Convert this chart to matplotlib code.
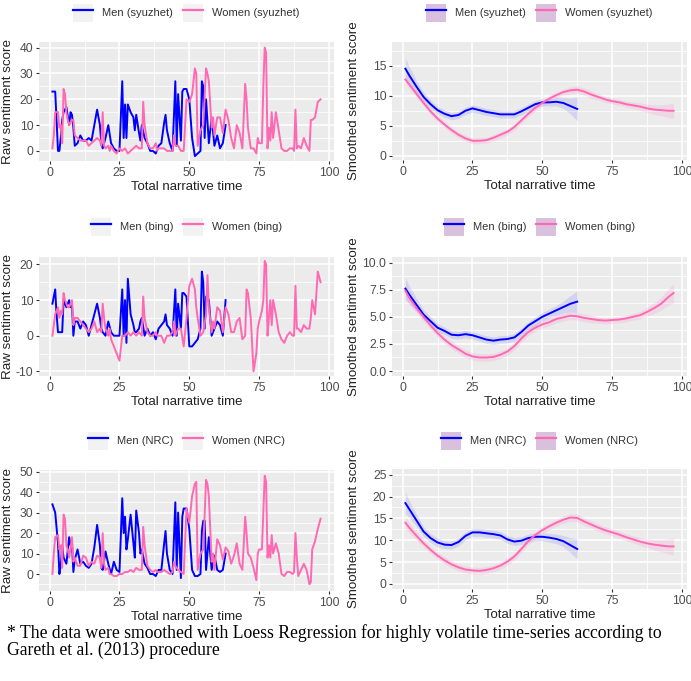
import matplotlib
matplotlib.use("Agg")
import matplotlib.pyplot as plt
from matplotlib.patches import Rectangle
from matplotlib.lines import Line2D
from matplotlib.ticker import MultipleLocator

# raw sentiment, men (time points shared by the three lexicons)
men_t = [1, 2, 2.4, 3, 3.5, 4, 4.5, 5, 6, 7, 7.5, 8, 8.5, 9, 10, 11, 12, 13, 14, 15,
         16, 17, 18, 18.5, 19, 20, 21, 22, 23, 24, 25, 26, 26.5, 27, 27.5, 28, 29, 30, 30.5, 31,
         32, 32.5, 33, 34, 35, 36, 37, 38, 39, 40, 41, 41.5, 42, 43, 44, 45, 45.5, 46, 47, 47.5,
         48, 49, 50, 51, 52, 53, 54, 54.5, 55, 55.5, 56, 57, 58, 59, 60, 61, 62, 63]
men_syuzhet = [23, 23, 14, 0, 0, 5, 12, 15, 17, 10, 15, 14, 9, 2, 3, 6, 4, 4, 5, 4,
               10, 16, 10, 3, 1, 5, 10, 3, 1, 0, 0, 27, 5, 18, 5, 18, 15, 13, 8, 14,
               7, 4, 10, 5, 3, 0, 0, -1, 2, 3, 11, 14, 8, 3, 0, 27, 2, 22, 4, 23,
               24, 24, 20, 5, -2, -1, 0, 27, 25, 5, 20, 3, 13, 2, 6, 1, 3, 10]
men_bing = [9, 13, 7, 1, 1, 1, 1, 10, 8, 10, 8, 9, 0, 4, 4, 2, 4, 3, 0, 3,
            6, 9, 5, 2, 1, 0, 4, 1, 0, 0, 0, 13, 0, 10, -2, 16, 6, 3, 1, 1,
            2, 4, 5, 0, 2, 0, 1, -1, 2, 3, 4, 6, 3, 2, 0, 13, 0, 9, 2, 12,
            12, 11, -3, -3, -2, -1, 2, 18, 15, 2, 11, 10, 0, 2, 4, 3, 0, 10]
men_nrc = [34, 30, 24, 15, 0, 5, 14, 8, 5, 18, 14, 15, 1, 7, 12, 5, 6, 4, 3, 5,
           13, 24, 14, 3, 2, 11, 5, 0, 6, 2, 1, 37, 20, 28, 12, 17, 29, 15, 8, 31,
           20, 10, 12, 5, 3, 0, 0, -1, 2, 2, 15, 21, 10, 2, 0, 35, 2, 30, -2, 28,
           32, 32, 22, 2, -1, -1, 0, 21, 26, 26, 2, 18, 2, 9, 2, 1, 2, 10]

# raw sentiment, women
women_t = [1, 1.5, 2, 3, 3.5, 4, 4.5, 5, 5.5, 6, 6.5, 7, 8, 8.5, 9, 10, 11, 12, 13, 14,
           15, 16, 17, 18, 18.5, 19, 19.5, 20, 21, 21.5, 22, 23, 24, 25, 26, 27, 28, 29, 30, 31,
           32, 33, 33.5, 34, 35, 36, 37, 38, 38.5, 39, 40, 41, 42, 43, 44, 44.5, 45, 46, 47, 48,
           49, 50, 51, 52, 52.5, 53, 54, 55, 56, 56.5, 57, 58, 58.5, 59, 60, 61, 62, 63, 64, 65,
           66, 67, 68, 69, 70, 70.5, 71, 72, 73, 74, 74.5, 75, 76, 76.5, 77, 77.5, 78, 78.5, 79, 79.5,
           80, 81, 82, 83, 84, 85, 86, 87, 87.5, 88, 88.5, 89, 90, 91, 92, 93, 93.5, 94, 95, 96, 97]
women_syuzhet = [1, 6, 15, 15, 9, 10, 3, 24, 22, 15, 12, 10, 12, 12, 6, 5, 4, 4, 4, 2,
                 3, 4, 5, 4, 2, 15, 2, 1, 2, 0, 2, 0, -1, 1, 0, 1, -1, 0, 1, 2,
                 1, 1, 19, 10, 3, 1, 1, 3, 0, 1, 1, 1, 0, 0, 0, 6, 2, 2, 0, 0,
                 20, 19, 22, 32, 30, 2, 8, 10, 32, 30, 27, 9, 13, 6, 13, 13, 7, 16, 12, 5,
                 1, 10, 7, 1, 26, 20, 9, 1, 1, -1, 5, 3, 3, 25, 40, 38, 1, 9, 4, 15,
                 5, 15, 8, 1, 0, 0, 1, 1, 0, 16, 1, 2, 1, 5, 2, 0, 12, 12, 13, 19, 20]
women_bing = [0, 3, 6, 8, 5, 7, 6, 12, 10, 9, 8, 8, 10, 3, 5, 5, 4, 3, 2, 1,
              2, 4, 1, 2, 1, 9, 5, 2, 0, 2, -1, -3, -5, -7, 0, 0, 1, 0, 1, 0,
              1, 0, 11, 5, 1, 0, 0, 1, 0, 0, 0, -2, 0, 0, 1, 4, 0, 2, 2, -3,
              5, 14, 16, 13, 8, 5, 0, 1, 6, 17, 8, 1, 4, 2, 8, 7, 1, 8, 6, 1,
              1, 4, 5, -1, 0, 13, 12, 5, -10, -5, 2, 4, 7, 10, 21, 20, 0, 5, 10, 3,
              10, 6, 1, -1, -2, 0, 1, 0, 0, 14, 2, 2, 1, 3, 2, 2, 5, 10, 6, 18, 15]
women_nrc = [0, 10, 18, 19, 12, 14, 3, 29, 27, 14, 12, 8, 18, 6, 8, 4, 4, 9, 8, 4,
             6, 5, 9, 8, 3, 20, 5, 2, 3, 0, 0, -1, -1, 0, 0, 1, 1, 2, 1, 3,
             2, 2, 23, 14, 4, 2, 1, 2, 1, 1, 1, 2, 1, 0, 1, 6, 4, 2, 1, 0,
             32, 25, 38, 44, 45, 2, 10, 12, 46, 44, 38, 6, 10, 2, 17, 14, 7, 13, 11, 5,
             9, 15, 5, 2, 28, 20, 10, 8, 3, -3, 10, 12, 12, 30, 48, 45, 8, 14, 8, 19,
             10, 15, 10, 0, -1, 1, 1, 0, 1, 20, 8, -1, 2, 5, 2, -5, -4, 12, 16, 22, 27]

# loess-smoothed values, with half-width of the band
smooth_men_t = [1, 2.5, 5, 7.5, 10, 12.5, 15, 17.5, 20, 22.5, 25, 27.5, 30, 32.5, 35, 37.5,
                40, 42.5, 45, 47.5, 50, 52.5, 55, 57.5, 60, 62.5]
smooth_women_t = [1, 2.5, 5, 7.5, 10, 12.5, 15, 17.5, 20, 22.5, 25, 27.5, 30, 32.5, 35, 37.5,
                  40, 42.5, 45, 47.5, 50, 52.5, 55, 57.5, 60, 62.5, 65, 67.5, 70, 72.5, 75,
                  77.5, 80, 82.5, 85, 87.5, 90, 92.5, 95, 97]

sm_men_syuzhet = [14.5, 13.3, 11.5, 9.8, 8.6, 7.6, 7.0, 6.6, 6.8, 7.5, 7.9, 7.6, 7.3, 7.1, 6.9, 6.9,
                  6.9, 7.4, 8.0, 8.6, 8.9, 8.9, 9.0, 8.8, 8.3, 7.8]
se_men_syuzhet = [1.8, 1.4, 1.0, 0.8, 0.7, 0.6, 0.6, 0.6, 0.6, 0.6, 0.6, 0.6, 0.6, 0.6, 0.6, 0.6,
                  0.6, 0.6, 0.6, 0.6, 0.6, 0.6, 0.7, 0.9, 1.3, 2.0]
sm_women_syuzhet = [12.7, 11.8, 10.3, 8.8, 7.4, 6.2, 5.2, 4.3, 3.5, 2.9, 2.5, 2.5, 2.6, 3.0, 3.5, 4.0,
                    4.8, 5.9, 7.0, 8.0, 8.8, 9.5, 10.1, 10.6, 10.9, 11.0, 10.7, 10.2, 9.8, 9.4, 9.1,
                    8.9, 8.6, 8.4, 8.2, 7.9, 7.7, 7.6, 7.5, 7.5]
se_women_syuzhet = [0.8, 0.7, 0.6, 0.5, 0.5, 0.5, 0.5, 0.5, 0.5, 0.5, 0.5, 0.5, 0.5, 0.5, 0.5, 0.5,
                    0.5, 0.5, 0.5, 0.5, 0.5, 0.5, 0.5, 0.5, 0.6, 0.6, 0.6, 0.6, 0.5, 0.5, 0.5,
                    0.5, 0.5, 0.6, 0.6, 0.7, 0.8, 0.9, 1.1, 1.3]

sm_men_bing = [7.6, 7.0, 6.1, 5.2, 4.6, 4.0, 3.7, 3.35, 3.3, 3.4, 3.3, 3.1, 2.9, 2.8, 2.9, 2.95,
               3.1, 3.6, 4.2, 4.6, 5.0, 5.3, 5.6, 5.9, 6.2, 6.4]
se_men_bing = [1.0, 0.8, 0.6, 0.45, 0.4, 0.4, 0.35, 0.35, 0.35, 0.35, 0.35, 0.35, 0.35, 0.35, 0.35, 0.35,
               0.35, 0.35, 0.35, 0.4, 0.4, 0.4, 0.45, 0.55, 0.75, 1.0]
sm_women_bing = [7.4, 6.7, 5.8, 5.0, 4.2, 3.5, 2.9, 2.4, 2.0, 1.6, 1.35, 1.25, 1.25, 1.3, 1.5, 1.8,
                 2.3, 3.0, 3.6, 4.0, 4.3, 4.5, 4.8, 4.95, 5.1, 5.05, 4.9, 4.8, 4.7, 4.65, 4.7,
                 4.75, 4.85, 5.0, 5.15, 5.45, 5.8, 6.2, 6.8, 7.2]
se_women_bing = [0.7, 0.6, 0.45, 0.4, 0.35, 0.35, 0.35, 0.35, 0.35, 0.35, 0.35, 0.35, 0.35, 0.35, 0.35, 0.35,
                 0.35, 0.35, 0.35, 0.35, 0.35, 0.35, 0.35, 0.35, 0.35, 0.35, 0.35, 0.35, 0.3, 0.3, 0.3,
                 0.3, 0.3, 0.3, 0.35, 0.4, 0.5, 0.6, 0.75, 0.9]

sm_men_nrc = [18.5, 17.0, 14.5, 12.0, 10.5, 9.5, 9.0, 8.9, 9.6, 11.0, 11.8, 11.8, 11.6, 11.4, 11.1, 10.2,
              9.7, 9.9, 10.5, 10.8, 10.8, 10.6, 10.3, 9.8, 8.9, 8.0]
se_men_nrc = [2.4, 1.9, 1.4, 1.1, 1.0, 1.0, 0.9, 0.9, 0.9, 0.9, 0.9, 0.9, 0.9, 0.9, 0.9, 0.9,
              0.9, 0.9, 0.9, 0.9, 0.9, 1.0, 1.1, 1.3, 1.7, 2.3]
sm_women_nrc = [14.0, 12.8, 11.0, 9.3, 7.8, 6.5, 5.4, 4.5, 3.8, 3.3, 3.1, 3.0, 3.2, 3.6, 4.2, 5.1,
                6.3, 8.0, 9.8, 11.2, 12.3, 13.2, 14.0, 14.7, 15.2, 15.1, 14.3, 13.6, 12.9, 12.3, 11.8,
                11.3, 10.7, 10.2, 9.7, 9.3, 9.0, 8.8, 8.6, 8.6]
se_women_nrc = [1.4, 1.2, 1.0, 0.9, 0.8, 0.8, 0.8, 0.8, 0.8, 0.8, 0.8, 0.8, 0.8, 0.8, 0.8, 0.8,
                0.8, 0.8, 0.8, 0.8, 0.8, 0.8, 0.8, 0.8, 0.9, 0.9, 0.9, 0.8, 0.8, 0.8, 0.8,
                0.8, 0.8, 0.8, 0.9, 1.0, 1.2, 1.4, 1.7, 2.0]

lexicons = ["syuzhet", "bing", "NRC"]
footnote = ("* The data were smoothed with Loess Regression for highly volatile time-series according to\n"
            "Gareth et al. (2013) procedure")

BLUE = "#0000FF"
PINK = "#FF69B4"
W, H = 691, 681

plt.rcParams['font.family'] = ['Liberation Sans', 'DejaVu Sans']
plt.rcParams['axes.unicode_minus'] = False
fig = plt.figure(figsize=(W / 100, H / 100), dpi=100)
fig.patch.set_facecolor("white")


def px_axes(x0, y0, x1, y1):
    return fig.add_axes([x0 / W, 1 - y1 / H, (x1 - x0) / W, (y1 - y0) / H])


def gg_style(ax, ylim, ystep, ylabel, label_x, fmt=None):
    ax.set_facecolor("#EBEBEB")
    for s in ax.spines.values():
        s.set_visible(False)
    ax.set_xlim(-3.8, 101.8)
    ax.set_ylim(*ylim)
    ax.xaxis.set_major_locator(MultipleLocator(25))
    ax.xaxis.set_minor_locator(MultipleLocator(12.5))
    ax.yaxis.set_major_locator(MultipleLocator(ystep))
    ax.yaxis.set_minor_locator(MultipleLocator(ystep / 2))
    ax.grid(which="major", color="white", lw=1.1)
    ax.grid(which="minor", color="white", lw=0.55)
    ax.set_axisbelow(True)
    ax.tick_params(which="major", length=2.5, width=0.8, color="#333333",
                   labelcolor="#4D4D4D", labelsize=8.8, pad=1.5)
    ax.tick_params(which="minor", length=0)
    if fmt:
        ax.yaxis.set_major_formatter(fmt)
    ax.set_xlabel("Total narrative time", fontsize=9.5, color="#222222", labelpad=1.5)
    ax.set_ylabel(ylabel, fontsize=9.6, color="#222222")
    ax.yaxis.set_label_coords(label_x, 0.5)


raw_men = [men_syuzhet, men_bing, men_nrc]
raw_women = [women_syuzhet, women_bing, women_nrc]
sm_men = [sm_men_syuzhet, sm_men_bing, sm_men_nrc]
se_men = [se_men_syuzhet, se_men_bing, se_men_nrc]
sm_women = [sm_women_syuzhet, sm_women_bing, sm_women_nrc]
se_women = [se_women_syuzhet, se_women_bing, se_women_nrc]

left_box = [(39, 42, 334, 161), (39, 257, 334, 376), (39, 470, 334, 591)]
right_box = [(392, 42, 687, 160), (392, 257, 687, 376), (392, 469, 687, 589)]
legend_y = [13, 227, 441]
raw_ylim = [(-3.9, 42.2), (-11.3, 22.1), (-8.3, 50.8)]
raw_step = [10, 10, 10]
sm_ylim = [(-0.7, 18.95), (-0.46, 10.52), (-1.15, 26.3)]
sm_step = [5, 2.5, 5]

for i, lex in enumerate(lexicons):
    # raw panel
    ax = px_axes(*left_box[i])
    ax.plot(men_t, raw_men[i], color=BLUE, lw=1.4)
    ax.plot(women_t, raw_women[i], color=PINK, lw=1.4)
    gg_style(ax, raw_ylim[i], raw_step[i], "Raw sentiment score", (14 - 39) / 295)
    # smoothed panel
    ax2 = px_axes(*right_box[i])
    lo_m = [v - s for v, s in zip(sm_men[i], se_men[i])]
    hi_m = [v + s for v, s in zip(sm_men[i], se_men[i])]
    lo_w = [v - s for v, s in zip(sm_women[i], se_women[i])]
    hi_w = [v + s for v, s in zip(sm_women[i], se_women[i])]
    ax2.fill_between(smooth_men_t, lo_m, hi_m, color=BLUE, alpha=0.1, lw=0)
    ax2.fill_between(smooth_women_t, lo_w, hi_w, color=PINK, alpha=0.15, lw=0)
    ax2.plot(smooth_men_t, sm_men[i], color=BLUE, lw=1.4)
    ax2.plot(smooth_women_t, sm_women[i], color=PINK, lw=1.4)
    fmt = "{x:.1f}" if sm_step[i] == 2.5 else None
    gg_style(ax2, sm_ylim[i], sm_step[i], "Smoothed sentiment score", (360 - 392) / 295, fmt)

    # legends above each panel
    for box, keycol in [(left_box[i], "#F2F2F2"), (right_box[i], "#D9C0DC")]:
        handles = [(Rectangle((0, 0), 1, 1, fc=keycol, ec="none"), Line2D([], [], color=BLUE, lw=1.6)),
                   (Rectangle((0, 0), 1, 1, fc=keycol, ec="none"), Line2D([], [], color=PINK, lw=1.6))]
        labels = ["Men (%s)" % lex, "Women (%s)" % lex]
        cx = (box[0] + box[2]) / 2 / W
        cy = 1 - legend_y[i] / H
        fig.legend(handles, labels, loc="center", bbox_to_anchor=(cx, cy), ncol=2, frameon=False,
                   fontsize=8, labelcolor="#333333", handlelength=1.8, handleheight=2.2,
                   handletextpad=0.8, columnspacing=0.9, borderpad=0)

fig.text(7 / W, 1 - 624 / H, footnote, family=['Liberation Serif', 'DejaVu Serif'], fontsize=12.7,
         va="top", ha="left", linespacing=1.0)

fig.savefig("out.png", dpi=100)
